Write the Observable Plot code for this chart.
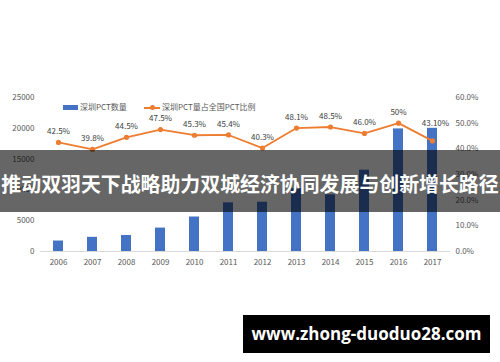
<!DOCTYPE html>
<html><head><meta charset="utf-8">
<script src="https://cdn.jsdelivr.net/npm/d3@7"></script>
<script src="https://cdn.jsdelivr.net/npm/@observablehq/plot@0.6"></script>
<style>
body{margin:0;background:#fff;}
#wrap{position:relative;width:500px;height:362px;overflow:hidden;background:#fff;}
#wrap svg{position:absolute;left:0;top:0;}
.lg{position:absolute;font:8px "Noto Sans CJK SC",sans-serif;color:#595959;line-height:10px;white-space:nowrap;}
.sw{position:absolute;}
#banner{position:absolute;left:0;top:150px;width:500px;height:62px;overflow:hidden;background:rgba(0,0,0,0.6);color:#fff;
  font:bold 19.9px "Noto Sans CJK SC",sans-serif;line-height:67px;text-align:center;white-space:nowrap;}
#wm{position:absolute;left:243px;top:315px;width:247px;height:38px;background:#000;color:#fff;
  font:bold 17px "Open Sans",sans-serif;line-height:38px;text-align:center;white-space:nowrap;}
</style></head><body><div id="wrap"></div>
<script>
const years = [2006,2007,2008,2009,2010,2011,2012,2013,2014,2015,2016,2017];
const counts = [1700,2300,2600,3800,5600,7900,8000,10200,9200,13200,19900,20000];
const shares = [42.5,39.8,44.5,47.5,45.3,45.4,40.3,48.1,48.5,46.0,50,43.1];
const shareLabels = ["42.5%","39.8%","44.5%","47.5%","45.3%","45.4%","40.3%","48.1%","48.5%","46.0%","50%","43.10%"];
const leftTicks = [0,5000,10000,15000,20000,25000];
const rightTicks = [0,10,20,30,40,50,60];
const seriesNames = ["深圳PCT数量","深圳PCT量占全国PCT比例"];
const bannerText = "推动双羽天下战略助力双城经济协同发展与创新增长路径";
const watermark = "www.zhong-duoduo28.com";

const leftMax = 25000, rightMax = 60;
const toLeft = p => p / rightMax * leftMax;
const data = years.map((year,i)=>({year, count:counts[i], share:shares[i], label:shareLabels[i], last:i===years.length-1}));

const chart = Plot.plot({
  width:500, height:362, marginTop:97, marginBottom:111, marginLeft:40, marginRight:50,
  style:{fontFamily:'"Noto Sans CJK SC",sans-serif', fontSize:"8px", color:"#595959", background:"transparent"},
  x:{type:"band", domain:years, paddingInner:0.695, paddingOuter:0.36, label:null},
  y:{domain:[0,leftMax], label:null},
  marks:[
    Plot.axisX({tickSize:0, tickPadding:8, label:null, fill:"#595959", tickFormat:d=>String(d)}),
    Plot.axisY(leftTicks, {tickSize:0, tickPadding:6, label:null, fill:"#595959", tickFormat:d=>String(d)}),
    Plot.axisY(rightTicks.map(toLeft), {anchor:"right", tickSize:0, tickPadding:5, label:null, fill:"#595959",
      tickFormat:d=>(d/leftMax*rightMax).toFixed(1)+"%"}),
    Plot.ruleY([0], {stroke:"#d9d9d9"}),
    Plot.barY(data, {x:"year", y:"count", fill:"#4472C4"}),
    Plot.line(data, {x:"year", y:d=>toLeft(d.share), stroke:"#ED7D31", strokeWidth:1.8}),
    Plot.dot(data, {x:"year", y:d=>toLeft(d.share), r:2.6, fill:"#ED7D31"}),
    Plot.text(data.filter(d=>!d.last), {x:"year", y:d=>toLeft(d.share), text:"label", dy:-11, fill:"#404040"}),
    Plot.text(data.filter(d=>d.last), {x:"year", y:d=>toLeft(d.share), text:"label", dx:3, dy:-17, fill:"#404040"})
  ]
});
const wrap = document.getElementById("wrap");
wrap.appendChild(chart);

function add(tag, cls, css, text){const e=document.createElement(tag); if(cls) e.className=cls; Object.assign(e.style, css); if(text) e.textContent=text; wrap.appendChild(e); return e;}
// legend
add("div","sw",{left:"63px",top:"105px",width:"15px",height:"5px",background:"#4472C4"});
add("div","lg",{left:"80px",top:"102px"},seriesNames[0]);
add("div","sw",{left:"144px",top:"106.5px",width:"16px",height:"2px",background:"#ED7D31"});
add("div","sw",{left:"149.5px",top:"105px",width:"5px",height:"5px",borderRadius:"50%",background:"#ED7D31"});
add("div","lg",{left:"162px",top:"102px"},seriesNames[1]);
// overlays
const b = document.createElement("div"); b.id="banner"; b.textContent=bannerText; wrap.appendChild(b);
const w = document.createElement("div"); w.id="wm"; w.textContent=watermark; wrap.appendChild(w);
</script>
</body></html>
